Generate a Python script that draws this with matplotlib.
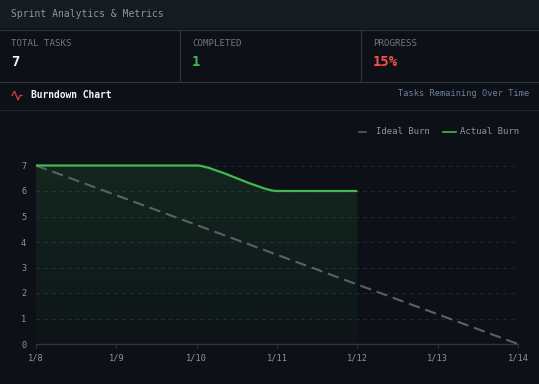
import numpy as np
import matplotlib
matplotlib.use("Agg")
import matplotlib.pyplot as plt
from matplotlib.patches import PathPatch, Rectangle
from matplotlib.path import Path

plt.rcParams['font.family'] = ['DejaVu Sans Mono']

# chart data
dates = ['1/8', '1/9', '1/10', '1/11', '1/12', '1/13', '1/14']
ideal_days = [0, 6]
ideal_burn = [7, 0]
actual_days = [0, 1, 2, 3, 4]
actual_burn = [7, 7, 7, 6, 6]
y_ticks = [0, 1, 2, 3, 4, 5, 6, 7]

# stat cards
stat_labels = ['TOTAL TASKS', 'COMPLETED', 'PROGRESS']
stat_values = ['7', '1', '15%']

BG = '#0d1117'
HEADER_BG = '#161b22'
BORDER = '#30363d'
GREEN = '#3fb950'
RED = '#f85149'
MUTED = '#8b949e'
WHITE = '#f0f6fc'

W, H = 539, 384
fig = plt.figure(figsize=(W / 100, H / 100), dpi=100, facecolor=BG)

# overlay in pixel coordinates for the panels and text
bg = fig.add_axes([0, 0, 1, 1], zorder=0)
bg.set_xlim(0, W)
bg.set_ylim(H, 0)
bg.axis('off')

bg.add_patch(Rectangle((0, 0), W, 29, facecolor=HEADER_BG, edgecolor='none'))
for y in (29.5, 81.5):
    bg.plot([0, W], [y, y], color=BORDER, lw=0.8)
bg.plot([0, W], [109.5, 109.5], color='#21262d', lw=0.8)
for x in (179.5, 360.5):
    bg.plot([x, x], [29.5, 81.5], color=BORDER, lw=0.8)

bg.text(11, 14, 'Sprint Analytics & Metrics', color=MUTED, fontsize=7, va='center')

stat_x = [11, 192, 373]
stat_colors = [WHITE, GREEN, RED]
for x, label, value, c in zip(stat_x, stat_labels, stat_values, stat_colors):
    bg.text(x, 44, label, color='#6e7681', fontsize=6.6, va='center')
    bg.text(x, 62, value, color=c, fontsize=10, va='center', fontweight='bold')

# activity icon
bg.plot([12, 14.5, 18, 20, 22], [95.5, 91, 100, 95.5, 95.5], color=RED, lw=0.9, alpha=0.8,
        solid_joinstyle='miter')
bg.text(31, 95.5, 'Burndown Chart', color=WHITE, fontsize=6.95, va='center', fontweight='bold')
bg.text(529, 94, 'Tasks Remaining Over Time', color='#6e7f96', fontsize=6.25, va='center', ha='right')

# legend
bg.plot([359, 366], [131.5, 131.5], color='#59636e', lw=1.1)
bg.text(376, 131, 'Ideal Burn', color=MUTED, fontsize=6.5, va='center')
bg.plot([443, 456], [131.5, 131.5], color=GREEN, lw=1.2)
bg.text(460.5, 131, 'Actual Burn', color=MUTED, fontsize=6.5, va='center')

# burndown axes
left, right, top, bottom = 36, 518, 165.5, 344
ax = fig.add_axes([left / W, (H - bottom) / H, (right - left) / W, (bottom - top) / H], zorder=1)
ax.patch.set_alpha(0)
ax.set_xlim(0, 6)
ax.set_ylim(0, 7)


# smooth path with flat tangents at each point
def burn_path(xs, ys, tension=0.2):
    verts = [(xs[0], ys[0])]
    codes = [Path.MOVETO]
    for i in range(len(xs) - 1):
        dx = (xs[i + 1] - xs[i]) * tension
        verts += [(xs[i] + dx, ys[i]), (xs[i + 1] - dx, ys[i + 1]), (xs[i + 1], ys[i + 1])]
        codes += [Path.CURVE4] * 3
    return verts, codes


verts, codes = burn_path(actual_days, actual_burn)

# gradient area under the actual line
fill_verts = verts + [(actual_days[-1], 0), (actual_days[0], 0), (actual_days[0], actual_burn[0])]
fill_codes = codes + [Path.LINETO, Path.LINETO, Path.LINETO]
fill_patch = PathPatch(Path(fill_verts, fill_codes), facecolor='none', edgecolor='none',
                       transform=ax.transData)
ax.add_patch(fill_patch)
grad = np.zeros((256, 1, 4))
grad[..., :3] = matplotlib.colors.to_rgb(GREEN)
grad[..., 3] = np.linspace(0.13, 0.025, 256)[:, None]
im = ax.imshow(grad, extent=[0, 6, 0, 7], origin='upper', aspect='auto', zorder=1)
im.set_clip_path(fill_patch)

ax.grid(axis='y', color='#2b323a', lw=0.7, dashes=(4, 4), alpha=0.7)
ax.set_axisbelow(True)

ax.plot(ideal_days, ideal_burn, color='#59606a', lw=1.5, dashes=(5.5, 2.8), zorder=3, clip_on=False)
ax.add_patch(PathPatch(Path(verts, codes), facecolor='none', edgecolor=GREEN, lw=1.6,
                       zorder=4, clip_on=False))

for s in ('top', 'right', 'left'):
    ax.spines[s].set_visible(False)
ax.spines['bottom'].set_color(BORDER)
ax.spines['bottom'].set_linewidth(1)

ax.set_xticks(range(len(dates)))
ax.set_xticklabels(dates)
ax.set_yticks(y_ticks)
ax.tick_params(axis='x', colors=BORDER, length=3, width=0.7, labelcolor=MUTED, labelsize=6.2, pad=3.5)
ax.tick_params(axis='y', length=0, labelcolor=MUTED, labelsize=6.2, pad=7)

fig.savefig('out.png', dpi=100, facecolor=BG)
